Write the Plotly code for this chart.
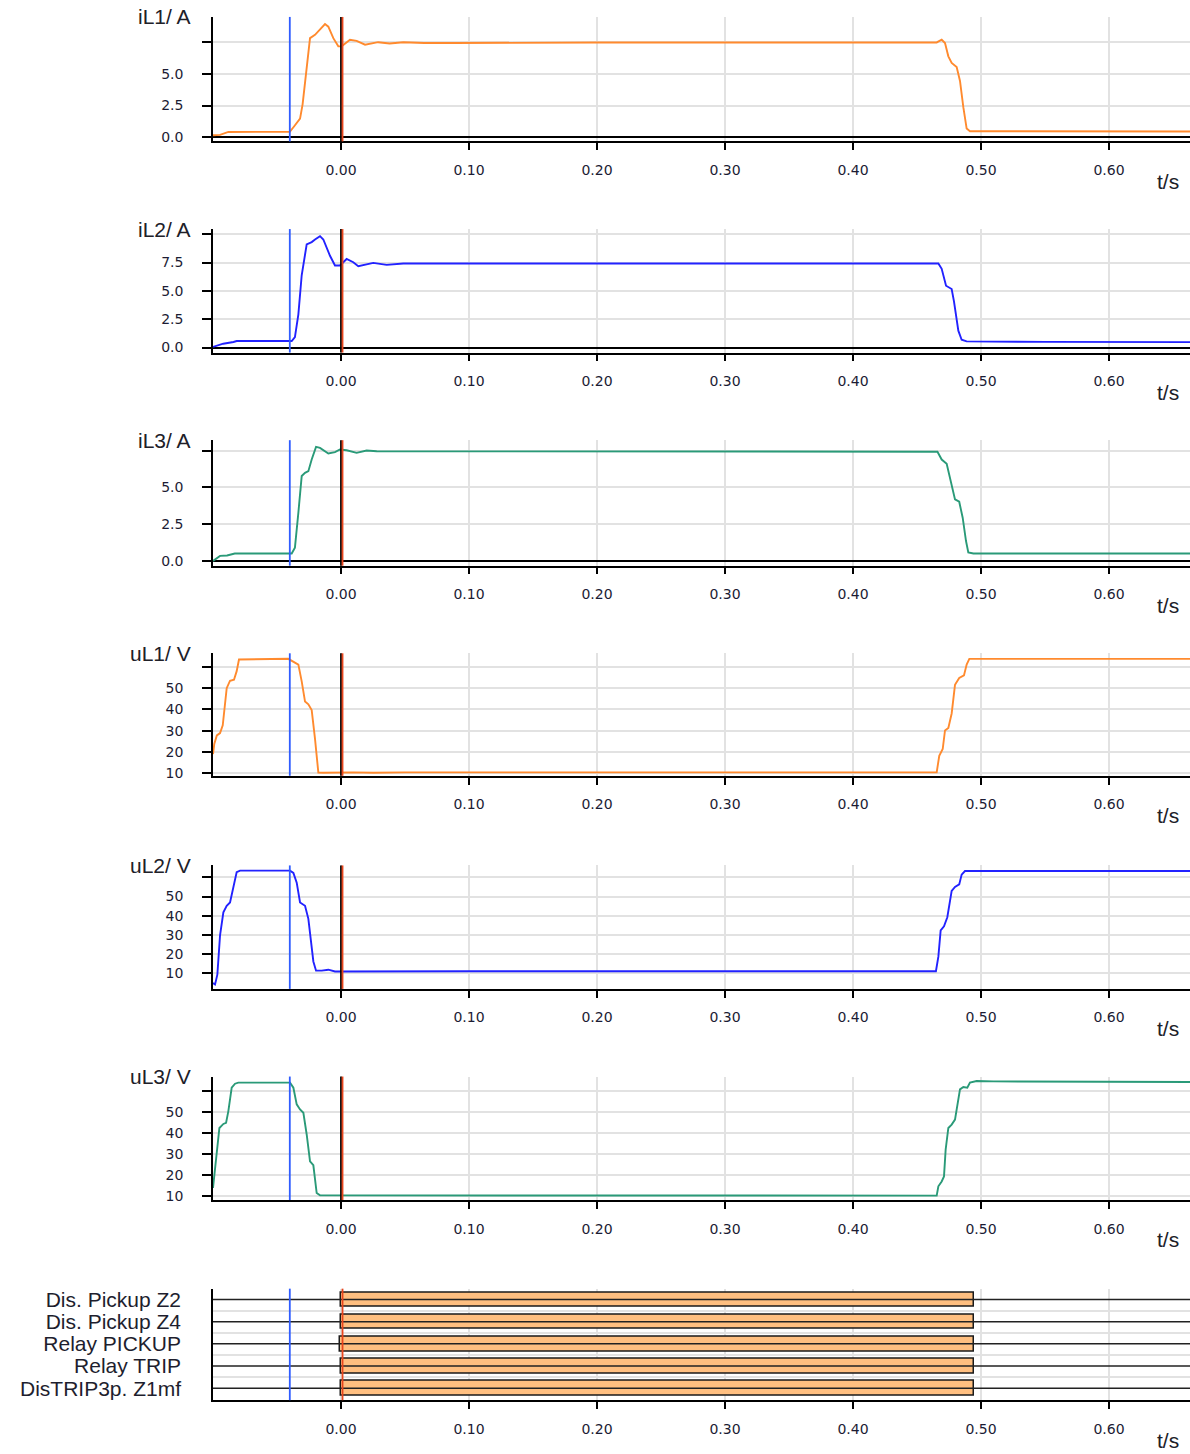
import plotly.graph_objects as go

# ---------------------------------------------------------------- data
# time axis window (s)
T_MIN, T_MAX = -0.1, 0.6633
X_TICKS = [0.0, 0.1, 0.2, 0.3, 0.4, 0.5, 0.6]

# cursor markers (s)
CURSOR_BLUE = -0.040
CURSOR_BLACK = 0.0
CURSOR_RED = 0.0012

# phase currents (A)
T_IL1 = [-0.100, -0.0945, -0.088, -0.040, -0.037, -0.032, -0.030, -0.0268, -0.0242, -0.0203,
         -0.0164, -0.0125, -0.0099, -0.006, -0.0021, 0.0005, 0.007, 0.0122, 0.0188, 0.029,
         0.038, 0.0487, 0.065, 0.078, 0.088, 0.20, 0.35, 0.4654, 0.4693, 0.4719, 0.4745,
         0.4771, 0.481, 0.4836, 0.4862, 0.4888, 0.4914, 0.55, 0.6633]
IL1 = [0.15, 0.18, 0.41, 0.42, 0.80, 1.46, 2.60, 5.80, 7.84, 8.10,
       8.50, 8.96, 8.75, 7.84, 7.19, 7.19, 7.71, 7.63, 7.32, 7.52,
       7.42, 7.52, 7.45, 7.47, 7.45, 7.50, 7.50, 7.50, 7.71, 7.45, 6.40,
       5.88, 5.55, 4.45, 2.37, 0.68, 0.47, 0.45, 0.45]

T_IL2 = [-0.100, -0.092, -0.084, -0.0815, -0.0385, -0.036, -0.0333, -0.0307, -0.0268, -0.0229,
         -0.0203, -0.0164, -0.0138, -0.0086, -0.0047, -0.0008, 0.0044, 0.0096, 0.0135, 0.0252,
         0.0357, 0.0487, 0.4667, 0.4693, 0.4727, 0.4771, 0.4789, 0.4823, 0.4849, 0.4888,
         0.55, 0.6633]
IL2 = [0.06, 0.34, 0.49, 0.58, 0.58, 0.92, 2.93, 6.38, 9.11, 9.31,
       9.54, 9.83, 9.54, 8.10, 7.24, 7.24, 7.82, 7.53, 7.18, 7.47,
       7.30, 7.42, 7.42, 6.95, 5.46, 5.17, 4.08, 1.49, 0.69, 0.55,
       0.50, 0.48]

T_IL3 = [-0.100, -0.0945, -0.089, -0.083, -0.0385, -0.036, -0.0333, -0.0307, -0.0281, -0.0255,
         -0.0229, -0.0195, -0.0164, -0.0099, -0.0047, -0.0008, 0.0044, 0.0122, 0.020, 0.0279,
         0.466, 0.4693, 0.4732, 0.4771, 0.4797, 0.483, 0.4857, 0.4883, 0.4901, 0.4941, 0.6633]
IL3 = [0.02, 0.36, 0.39, 0.52, 0.52, 0.92, 3.29, 5.77, 5.99, 6.10,
       6.89, 7.75, 7.68, 7.30, 7.39, 7.57, 7.52, 7.34, 7.50, 7.45,
       7.42, 6.89, 6.60, 5.20, 4.19, 4.03, 2.95, 1.37, 0.59, 0.52, 0.52]

# phase voltages (V)
T_UL1 = [-0.100, -0.099, -0.097, -0.0945, -0.0924, -0.0893, -0.0867, -0.0836, -0.0815, -0.0797,
         -0.0412, -0.0372, -0.0333, -0.0307, -0.0281, -0.0255, -0.0229, -0.0203, -0.0177, -0.0138,
         -0.006, 0.002, 0.0096, 0.0252, 0.050, 0.4654, 0.4674, 0.4701, 0.4719, 0.4745,
         0.4771, 0.4797, 0.483, 0.4867, 0.4888, 0.4909, 0.6633]
UL1 = [19.0, 23.8, 27.8, 28.9, 32.5, 50.0, 53.5, 54.0, 58.0, 63.5,
       63.8, 62.4, 61.1, 53.2, 43.7, 42.4, 39.7, 26.2, 10.3, 10.2,
       10.3, 10.2, 10.4, 10.2, 10.4, 10.4, 18.2, 21.4, 30.1, 31.3,
       38.1, 51.6, 54.8, 56.0, 61.1, 63.8, 63.8]

T_UL2 = [-0.100, -0.0984, -0.0966, -0.0945, -0.0919, -0.0893, -0.0867, -0.0841, -0.0815, -0.0789,
         -0.0398, -0.0372, -0.0346, -0.032, -0.0281, -0.0255, -0.0216, -0.0195, -0.0151, -0.0099,
         -0.0047, 0.100, 0.4648, 0.4667, 0.4685, 0.4711, 0.4737, 0.4771, 0.4797, 0.483,
         0.4849, 0.4875, 0.6633]
UL2 = [5.0, 4.2, 9.3, 29.8, 41.8, 45.2, 46.9, 55.5, 62.7, 63.5,
       63.5, 62.3, 57.2, 46.9, 45.2, 38.4, 16.2, 11.4, 11.4, 11.9,
       11.0, 11.1, 11.1, 18.7, 32.4, 34.5, 39.2, 52.9, 55.0, 56.3,
       61.4, 63.3, 63.3]

T_UL3 = [-0.100, -0.097, -0.095, -0.0919, -0.0898, -0.088, -0.0854, -0.0828, -0.0802, -0.0398,
         -0.0372, -0.0346, -0.032, -0.0294, -0.0268, -0.0242, -0.0216, -0.019, -0.0164, 0.4654,
         0.4667, 0.4693, 0.4711, 0.4724, 0.4745, 0.4771, 0.4797, 0.4836, 0.4862, 0.4893,
         0.4914, 0.4966, 0.5096, 0.6633]
UL3 = [14.0, 29.8, 42.5, 44.4, 44.9, 50.5, 61.6, 63.5, 64.0, 64.0,
       61.6, 53.7, 51.3, 49.7, 39.4, 26.7, 24.8, 11.6, 10.5, 10.4,
       14.8, 17.1, 19.5, 32.2, 42.5, 44.1, 46.5, 60.8, 61.9, 61.6,
       64.0, 64.8, 64.6, 64.3]

# binary signals: label, active from, active to (s)
BIN_LABELS = ["Dis. Pickup Z2", "Dis. Pickup Z4", "Relay PICKUP", "Relay TRIP", "DisTRIP3p. Z1mf"]
BIN_START = [0.0, 0.0, -0.001, 0.0, 0.0]
BIN_END = [0.4945, 0.4945, 0.4945, 0.4945, 0.4945]

# ---------------------------------------------------------------- styling
W, H = 1190, 1454
X_LEFT_PX = 213
ORANGE = "#ff8a2e"
BLUE = "#2222ff"
GREEN = "#2a9a78"
GRID = "#e2e2e2"
TICK_FONT = dict(family="DejaVu Sans", size=14, color="#1c1c34")
LABEL_FONT = dict(family="Liberation Sans, Arial", size=21, color="#202028")

analog = [
    dict(title="iL1/ A", t=T_IL1, v=IL1, color=ORANGE, yr=[-0.34, 9.52],
         tv=[0, 2.5, 5.0, 7.5], tt=["0.0", "2.5", "5.0", ""], top=16, bottom=141, zero=True),
    dict(title="iL2/ A", t=T_IL2, v=IL2, color=BLUE, yr=[-0.44, 10.46],
         tv=[0, 2.5, 5.0, 7.5, 10.0], tt=["0.0", "2.5", "5.0", "7.5", ""], top=229, bottom=353, zero=True),
    dict(title="iL3/ A", t=T_IL3, v=IL3, color=GREEN, yr=[-0.30, 8.2],
         tv=[0, 2.5, 5.0, 7.5], tt=["0.0", "2.5", "5.0", ""], top=441, bottom=567, zero=True),
    dict(title="uL1/ V", t=T_UL1, v=UL1, color=ORANGE, yr=[8.8, 66.4],
         tv=[10, 20, 30, 40, 50, 60], tt=["10", "20", "30", "40", "50", ""], top=655, bottom=778, zero=False),
    dict(title="uL2/ V", t=T_UL2, v=UL2, color=BLUE, yr=[1.9, 66.2],
         tv=[10, 20, 30, 40, 50, 60], tt=["10", "20", "30", "40", "50", ""], top=868, bottom=992, zero=False),
    dict(title="uL3/ V", t=T_UL3, v=UL3, color=GREEN, yr=[8.3, 66.9],
         tv=[10, 20, 30, 40, 50, 60], tt=["10", "20", "30", "40", "50", ""], top=1080, bottom=1204, zero=False),
]
BIN_TOP, BIN_BOTTOM = 1293, 1405

fig = go.Figure()
layout = dict(
    width=W, height=H, margin=dict(l=0, r=0, t=0, b=0),
    paper_bgcolor="white", plot_bgcolor="white", showlegend=False,
    shapes=[], annotations=[],
)


def x_axis(anchor):
    return dict(
        domain=[X_LEFT_PX / W, 1.0], anchor=anchor, range=[T_MIN, T_MAX],
        tickmode="array", tickvals=X_TICKS, ticktext=[f"{v:.2f}" for v in X_TICKS],
        ticks="outside", ticklen=7, tickwidth=1.5, tickcolor="black",
        ticklabelstandoff=8, tickfont=TICK_FONT,
        showline=True, linecolor="black", linewidth=1.5,
        showgrid=True, gridcolor=GRID, gridwidth=1.5, zeroline=False,
    )


def add_cursors(idx, with_black=True):
    xr = "x" if idx == 1 else f"x{idx}"
    yr = "y domain" if idx == 1 else f"y{idx} domain"
    marks = [(CURSOR_BLUE, "#2f5cff")]
    if with_black:
        marks.append((CURSOR_BLACK, "black"))
    marks.append((CURSOR_RED, "#e8451c"))
    for tx, col in marks:
        layout["shapes"].append(dict(type="line", xref=xr, yref=yr, x0=tx, x1=tx, y0=0, y1=1,
                                     line=dict(color=col, width=1.8), layer="above"))


def add_unit_label(bottom):
    layout["annotations"].append(dict(
        text="t/s", xref="paper", yref="paper", x=1168 / W, y=1 - (bottom + 40) / H,
        xanchor="center", yanchor="middle", showarrow=False, font=LABEL_FONT))


for i, p in enumerate(analog, start=1):
    sfx = "" if i == 1 else str(i)
    dom = [1 - p["bottom"] / H, 1 - p["top"] / H]
    fig.add_trace(go.Scatter(x=p["t"], y=p["v"], mode="lines", xaxis=f"x{sfx}", yaxis=f"y{sfx}",
                             line=dict(color=p["color"], width=1.9), hoverinfo="skip"))
    layout[f"xaxis{sfx}"] = x_axis(f"y{sfx}")
    layout[f"yaxis{sfx}"] = dict(
        domain=dom, anchor=f"x{sfx}", range=p["yr"],
        tickmode="array", tickvals=p["tv"], ticktext=p["tt"],
        ticks="outside", ticklen=9, tickwidth=1.5, tickcolor="black",
        ticklabelstandoff=16, tickfont=TICK_FONT,
        showline=True, linecolor="black", linewidth=1.5,
        showgrid=True, gridcolor=GRID, gridwidth=1.5,
        zeroline=p["zero"], zerolinecolor="black", zerolinewidth=1.5,
    )
    add_cursors(i)
    add_unit_label(p["bottom"])
    layout["annotations"].append(dict(
        text=p["title"], xref="paper", yref="paper", x=193 / W, y=1 - p["top"] / H,
        xanchor="right", yanchor="middle", showarrow=False, font=LABEL_FONT))

# ---------------------------------------------------------------- binary panel
bi = len(analog) + 1
bsfx = str(bi)
rows = list(range(len(BIN_LABELS), 0, -1))
for r in rows:
    fig.add_trace(go.Scatter(x=[T_MIN, T_MAX], y=[r, r], mode="lines", xaxis=f"x{bsfx}",
                             yaxis=f"y{bsfx}", line=dict(color="#222222", width=1.5),
                             hoverinfo="skip"))
fig.add_trace(go.Bar(
    y=rows, base=BIN_START, x=[e - s for s, e in zip(BIN_START, BIN_END)], orientation="h",
    width=0.66, xaxis=f"x{bsfx}", yaxis=f"y{bsfx}",
    marker=dict(color="#ffbf80", line=dict(color="#1a1a1a", width=1.5)), hoverinfo="skip"))
layout[f"xaxis{bsfx}"] = x_axis(f"y{bsfx}")
layout[f"yaxis{bsfx}"] = dict(
    domain=[1 - BIN_BOTTOM / H, 1 - BIN_TOP / H], anchor=f"x{bsfx}",
    range=[0.46, len(BIN_LABELS) + 0.49],
    tickmode="array", tickvals=rows, ticktext=BIN_LABELS, ticks="",
    ticklabelstandoff=26, tickfont=dict(family="Liberation Sans, Arial", size=21, color="#1e1e2e"),
    showline=True, linecolor="black", linewidth=1.5, showgrid=False, zeroline=False,
    minor=dict(tick0=0.5, dtick=1, showgrid=True, gridcolor=GRID, gridwidth=1.5, ticks=""),
)
layout["bargap"] = 0
add_cursors(bi, with_black=False)
add_unit_label(BIN_BOTTOM)

fig.update_layout(**layout)
fig.write_html("out.html")
